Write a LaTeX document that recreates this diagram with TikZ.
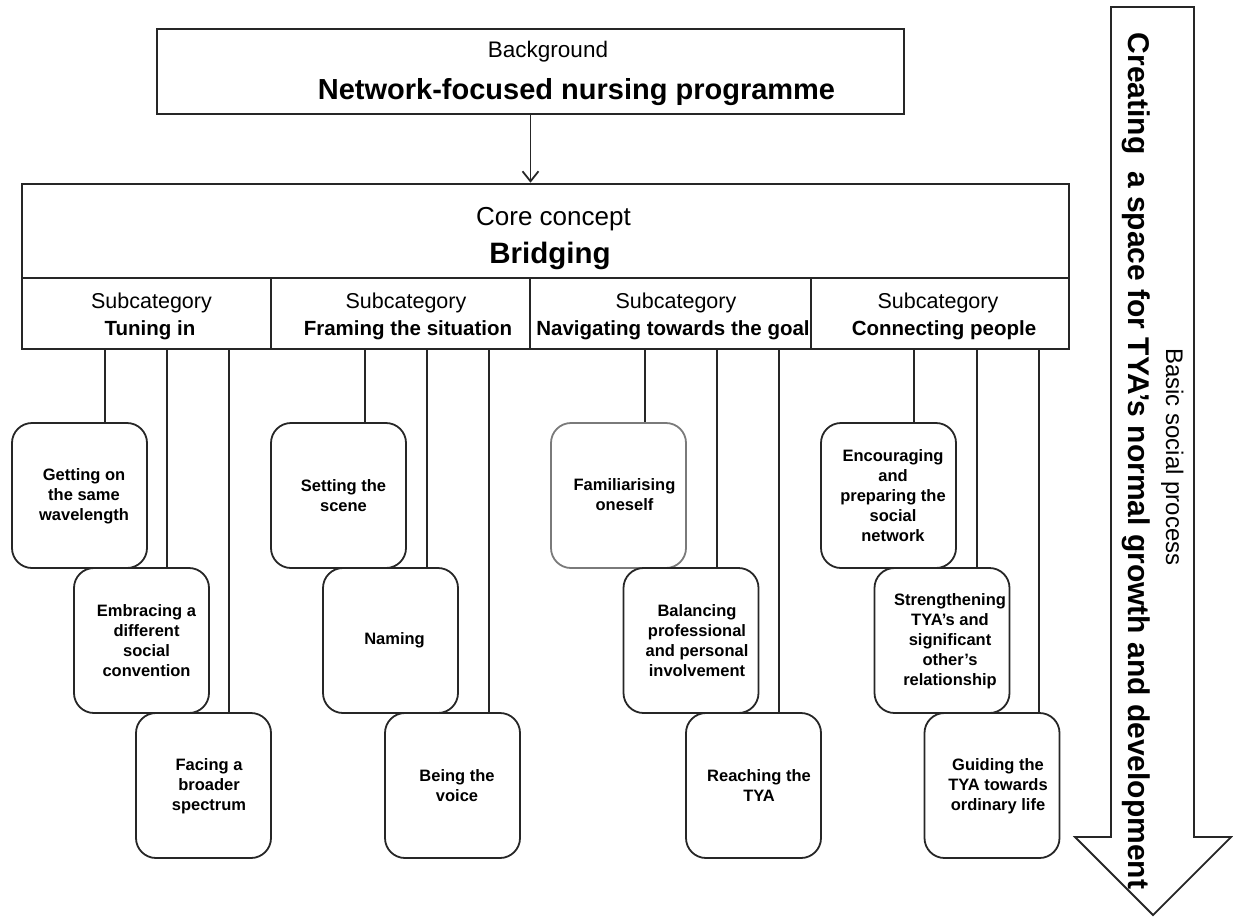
\documentclass[tikz,border=0pt]{standalone}
\usepackage{fontspec}
\setmainfont{Liberation Sans}
\usetikzlibrary{arrows.meta,calc}
\definecolor{ink}{HTML}{262626}
\definecolor{greyink}{HTML}{7A7A7A}
\begin{document}
\begin{tikzpicture}[x=1pt,y=-1pt,
  frame/.style={draw=ink, line width=2.2pt, rectangle, inner sep=0pt},
  tbox/.style={draw=ink, line width=1.8pt, rounded corners=20pt, minimum width=135pt, minimum height=145pt, inner sep=0pt},
  conn/.style={draw=ink, line width=1.2pt},
  btext/.style={font=\bfseries\fontsize{16.5}{20}\selectfont, align=center, inner sep=0pt},
  lab/.style={inner sep=0pt, anchor=base},
  subreg/.style={lab, font=\fontsize{21.5}{24}\selectfont},
  subbold/.style={lab, font=\bfseries\fontsize{20.5}{24}\selectfont}
]
\useasboundingbox (0,0) rectangle (1233,919);

% background box
\node[frame, minimum width=747pt, minimum height=85pt] (top) at (530.5,71.5) {};
\node[lab, font=\fontsize{22.5}{26}\selectfont] (bg) at (548,57) {Background};
\node[lab, font=\bfseries\fontsize{29}{33}\selectfont] (nfn) at (576.5,99) {Network-focused nursing programme};

% core concept
\node[frame, line width=2.6pt, minimum width=1047pt, minimum height=94pt] (core) at (545.5,231) {};
\node[lab, font=\fontsize{26}{30}\selectfont] (cc) at (553.5,225) {Core concept};
\node[lab, font=\bfseries\fontsize{29.5}{33}\selectfont] (br) at (550,263) {Bridging};

\draw[ink, line width=1.8pt, -{Straight Barb[length=10pt,width=16pt]}] (top.south) -- (top.south |- core.north);

% subcategory cells
\node[frame, line width=2.6pt, minimum width=249pt, minimum height=71pt] (c1) at (146.5,313.5) {};
\node[frame, line width=2.6pt, minimum width=259pt, minimum height=71pt] (c2) at (400.5,313.5) {};
\node[frame, line width=2.6pt, minimum width=281pt, minimum height=71pt] (c3) at (670.5,313.5) {};
\node[frame, line width=2.6pt, minimum width=258pt, minimum height=71pt] (c4) at (940,313.5) {};
\node[subreg] (s1a) at (151.5,308) {Subcategory};
\node[subbold] (s1b) at (150,335) {Tuning in};
\node[subreg] (s2a) at (406,308) {Subcategory};
\node[subbold] (s2b) at (408,335) {Framing the situation};
\node[subreg] (s3a) at (676,308) {Subcategory};
\node[subbold] (s3b) at (673,335) {Navigating towards the goal};
\node[subreg] (s4a) at (938,308) {Subcategory};
\node[subbold] (s4b) at (944,335) {Connecting people};

% group 1
\node[tbox] (b11) at (79.5,495.5) {};
\node[tbox] (b12) at (141.5,640.5) {};
\node[tbox] (b13) at (203.5,785.5) {};
\node[btext] (l11) at (84,496) {Getting on\\the same\\wavelength};
\node[btext] (l12) at (146.5,641) {Embracing a\\different\\social\\convention};
\node[btext] (l13) at (209,786) {Facing a\\broader\\spectrum};
\draw[conn] (c1.south -| 105,0) -- (b11.north -| 105,0);
\draw[conn] (c1.south -| 167,0) -- (b12.north -| 167,0);
\draw[conn] (c1.south -| 229,0) -- (b13.north -| 229,0);

% group 2
\node[tbox] (b21) at (338.5,495.5) {};
\node[tbox] (b22) at (390.5,640.5) {};
\node[tbox] (b23) at (452.5,785.5) {};
\node[btext] (l21) at (343.5,495.5) {Setting the\\scene};
\node[btext] (l22) at (394.5,640.5) {Naming};
\node[btext] (l23) at (457,786) {Being the\\voice};
\draw[conn] (c2.south -| 365,0) -- (b21.north -| 365,0);
\draw[conn] (c2.south -| 427,0) -- (b22.north -| 427,0);
\draw[conn] (c2.south -| 489,0) -- (b23.north -| 489,0);

% group 3
\node[tbox, draw=greyink] (b31) at (618.5,495.5) {};
\node[tbox] (b32) at (691,640.5) {};
\node[tbox] (b33) at (753.5,785.5) {};
\node[btext] (l31) at (624.5,495) {Familiarising\\oneself};
\node[btext] (l32) at (697,641) {Balancing\\professional\\and personal\\involvement};
\node[btext] (l33) at (759,786) {Reaching the\\TYA};
\draw[conn] (c3.south -| 645,0) -- (b31.north -| 645,0);
\draw[conn] (c3.south -| 717,0) -- (b32.north -| 717,0);
\draw[conn] (c3.south -| 779,0) -- (b33.north -| 779,0);

% group 4
\node[tbox] (b41) at (888.5,495.5) {};
\node[tbox] (b42) at (942,640.5) {};
\node[tbox] (b43) at (992,785.5) {};
\node[btext] (l41) at (893,496) {Encouraging\\and\\preparing the\\social\\network};
\node[btext] (l42) at (950,641.5) {Strengthening\\TYA’s and\\significant\\other’s\\relationship};
\node[btext] (l43) at (998,786) {Guiding the\\TYA towards\\ordinary life};
\draw[conn] (c4.south -| 914,0) -- (b41.north -| 914,0);
\draw[conn] (c4.south -| 977,0) -- (b42.north -| 977,0);
\draw[conn] (c4.south -| 1039,0) -- (b43.north -| 1039,0);

% basic social process arrow
\draw[ink, line width=1.8pt, line join=miter]
  (1111,7) -- (1194,7) -- (1194,837) -- (1231,837) -- (1153,915) -- (1075,837) -- (1111,837) -- cycle;
\node[lab, rotate=-90, font=\fontsize{24}{28}\selectfont] (bsp) at (1166,457) {Basic social process};
\node[lab, rotate=-90, font=\bfseries\fontsize{30}{34}\selectfont] (csp) at (1128.5,461) {Creating\ \ a space for TYA’s normal growth and development};
\end{tikzpicture}
\end{document}
